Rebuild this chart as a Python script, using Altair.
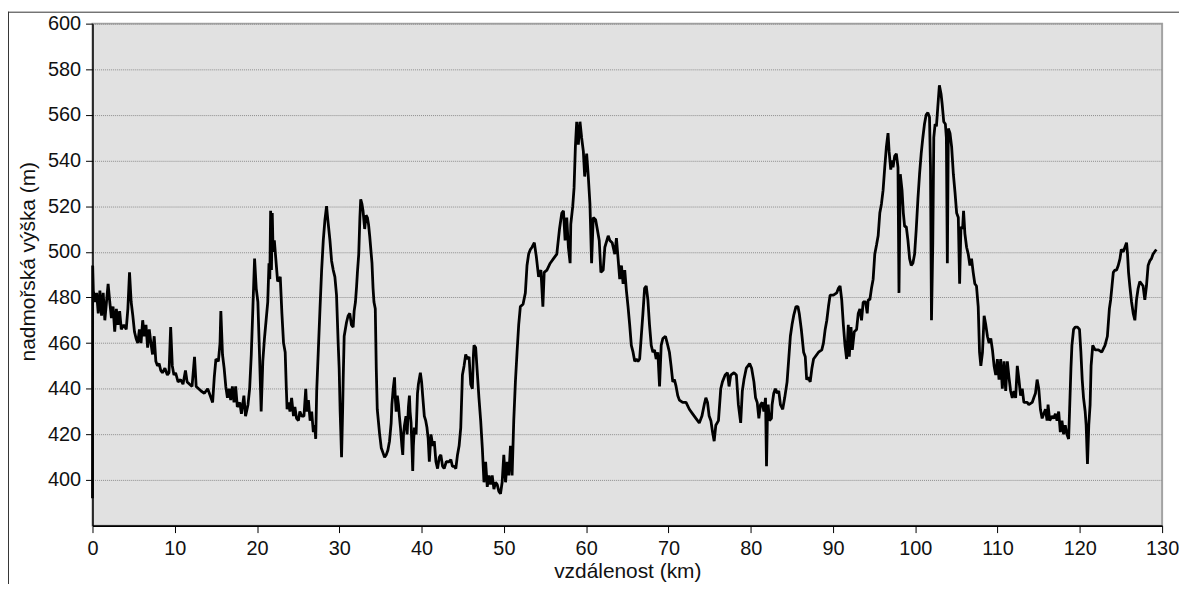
import altair as alt
import pandas as pd

km = [
    0.0, 0.02, 0.1, 0.3, 0.5, 0.7, 0.9, 1.1, 1.3, 1.5, 1.7, 1.9, 2.1, 2.3, 2.5, 2.7, 2.9, 3.1, 3.3, 3.5,
    3.8, 4.1, 4.3, 4.5, 4.7, 4.9, 5.1, 5.3, 5.5, 5.7, 5.9, 6.1, 6.3, 6.5, 6.7, 6.9, 7.1, 7.3, 7.5, 7.7,
    7.9, 8.1, 8.3, 8.5, 8.8, 9.1, 9.3, 9.5, 9.7, 9.9, 10.1, 10.4, 10.7, 11.0, 11.3, 11.5, 11.8, 12.1, 12.4, 12.6,
    12.9, 13.2, 13.6, 14.0, 14.3, 14.6, 14.8, 15.0, 15.3, 15.5, 15.6, 15.8, 16.0, 16.2, 16.4, 16.6, 16.8, 17.0, 17.2, 17.4,
    17.6, 17.9, 18.1, 18.4, 18.6, 18.9, 19.1, 19.3, 19.5, 19.7, 19.9, 20.1, 20.3, 20.5, 20.7, 20.9, 21.1, 21.3, 21.45, 21.55,
    21.65, 21.75, 21.85, 21.95, 22.1, 22.3, 22.5,
    22.82, 23.02, 23.22, 23.42, 23.55, 23.65, 23.83, 24.0, 24.2, 24.43, 24.6, 24.8, 25.03, 25.2, 25.44, 25.7, 25.92, 26.05, 26.24, 26.45,
    26.64, 26.84, 27.0, 27.13, 27.25, 27.45, 27.65, 27.85, 28.05, 28.25, 28.45, 28.55, 28.66, 28.86, 29.06, 29.26, 29.46, 29.66, 29.86, 29.98,
    30.1, 30.19, 30.27, 30.4, 30.47, 30.59, 30.87, 31.07, 31.27, 31.47, 31.68, 31.8, 31.96, 32.1, 32.2, 32.36, 32.5, 32.6, 32.75, 32.88,
    33.08, 33.25, 33.41, 33.55, 33.69, 33.97, 34.1, 34.21, 34.37, 34.49, 34.61, 34.9, 35.1, 35.3, 35.5, 35.7, 35.9, 36.1, 36.3, 36.39,
    36.55, 36.71, 36.8, 36.91, 37.05, 37.19, 37.3, 37.43, 37.6, 37.71, 37.8, 37.92, 38.1, 38.24, 38.4, 38.52, 38.6, 38.72, 38.85, 38.92,
    39.0, 39.12, 39.25, 39.33, 39.5, 39.61, 39.85, 40.0, 40.13, 40.33, 40.5, 40.65, 40.8, 40.94, 41.14, 41.35, 41.54, 41.74, 41.94, 42.15,
    42.34, 42.55, 42.74, 43.0, 43.35, 43.55, 43.75,
    43.96, 44.16, 44.36, 44.56, 44.76, 44.96, 45.16, 45.36, 45.57, 45.77, 45.97, 46.17, 46.3, 46.37, 46.57, 46.77, 46.97, 47.18, 47.38, 47.58,
    47.78, 47.98, 48.18, 48.38, 48.58, 48.79, 48.99, 49.19, 49.39, 49.59, 49.79, 49.99, 50.2, 50.4, 50.6, 50.8, 51.0, 51.2, 51.4, 51.6,
    51.8, 52.0, 52.33, 52.61, 52.81, 53.01, 53.22, 53.42, 53.7, 53.94, 54.22, 54.5, 54.74, 54.9, 55.23, 55.63, 56.03, 56.43, 56.76, 57.04,
    57.24, 57.44, 57.64, 57.84, 58.05, 58.13, 58.37, 58.53, 58.69, 58.85, 59.05, 59.25, 59.45, 59.66, 59.82, 60.06, 60.26, 60.46, 60.66, 60.86,
    61.15, 61.35, 61.59, 61.79, 62.07, 62.27, 62.68, 62.88, 63.16, 63.48, 63.68, 63.88, 64.08, 64.29, 64.49, 64.69, 64.89, 65.09, 65.29, 65.49,
    65.7, 65.9, 66.1, 66.3, 66.5, 66.7, 66.9, 67.1, 67.3, 67.5, 67.7, 67.91, 68.11, 68.31, 68.51, 68.71, 68.92, 69.12, 69.32, 69.64,
    69.92, 70.12, 70.32, 70.53, 70.73, 70.93, 71.13, 71.33, 71.73, 72.14, 72.54, 72.94, 73.34, 73.75, 74.07, 74.35, 74.55, 74.75, 74.95, 75.16,
    75.36, 75.56, 75.76, 76.08, 76.36, 76.56, 76.89, 77.17, 77.37, 77.57, 77.97, 78.26, 78.5, 78.78, 78.98, 79.18, 79.46, 79.87, 80.11, 80.39,
    80.59, 80.79, 80.99, 81.19, 81.4, 81.6, 81.8, 81.92, 82.05, 82.12, 82.28, 82.52, 82.6, 82.8, 83.0, 83.21, 83.41, 83.61, 83.89, 84.13,
    84.42, 84.62, 84.82, 85.02, 85.22, 85.5, 85.74, 85.9, 86.15, 86.43, 86.63, 86.8, 87.0, 87.23,
    87.44, 87.64, 87.84, 88.24, 88.64, 88.84, 89.05, 89.25, 89.45, 89.65, 90.05, 90.45, 90.66, 90.86, 91.06, 91.26, 91.46, 91.66, 91.86, 91.98,
    92.19, 92.35, 92.59, 92.87, 93.07, 93.27, 93.47, 93.67, 93.96, 94.16, 94.28, 94.48, 94.68, 94.88, 95.08, 95.29, 95.49, 95.69, 95.89, 96.09,
    96.29, 96.49, 96.69, 96.82, 97.02, 97.18, 97.3, 97.5, 97.7, 97.9, 98.02, 98.18, 98.39, 98.55, 98.71, 98.91, 99.11, 99.31, 99.51, 99.71,
    99.92, 100.12, 100.32, 100.52, 100.72, 100.92, 101.12, 101.32, 101.53, 101.73, 101.85, 101.97, 102.13, 102.25, 102.41, 102.57, 102.73, 102.93, 103.14, 103.26,
    103.46, 103.66, 103.78, 103.9, 104.02, 104.22, 104.42, 104.63, 104.83, 105.03, 105.23, 105.39, 105.55, 105.75, 105.87, 106.03, 106.24, 106.44, 106.64, 106.84,
    107.04, 107.24, 107.44, 107.65, 107.81, 107.97, 108.17, 108.37, 108.57, 108.77,
    108.97, 109.18, 109.38, 109.58, 109.78, 109.98, 110.18, 110.38, 110.58, 110.79, 110.99, 111.19, 111.39, 111.59, 111.79, 112.0, 112.2, 112.4, 112.6, 112.8,
    113.0, 113.2, 113.6, 113.8, 114.21, 114.41, 114.61, 114.81, 115.01, 115.21, 115.42, 115.62, 115.82, 116.02, 116.14, 116.34, 116.62, 116.82, 117.03, 117.23,
    117.43, 117.63, 117.83, 118.03, 118.23, 118.43, 118.64, 118.76, 118.92, 119.04, 119.24, 119.44, 119.72, 119.96, 120.13, 120.29, 120.45, 120.65, 120.77, 120.93,
    121.09, 121.25, 121.37, 121.57, 121.86, 122.26, 122.66, 123.06, 123.35, 123.59, 123.75, 123.91, 124.07, 124.27, 124.47, 124.67, 124.88, 125.04, 125.28, 125.48,
    125.68, 125.8, 125.92, 126.08, 126.29, 126.49, 126.69, 126.89, 127.09, 127.29, 127.49, 127.69, 127.9, 128.1, 128.3, 128.5, 128.7, 128.9, 129.1, 129.3,
]

elev = [
    392, 494, 483, 478, 482, 473, 483, 472, 482, 470, 478, 486, 478, 471, 476, 465, 475, 468, 474, 466,
    468, 466, 475, 491, 478, 472, 465, 462, 460, 466, 460, 470, 463, 468, 458, 466, 460, 455, 463, 452,
    450, 451, 448, 447, 449, 446, 447, 467, 450, 446, 447, 443, 444, 442, 448, 443, 442, 441, 454, 441,
    440, 439, 438, 440, 437, 434, 445, 453, 452, 460, 474, 455, 449, 441, 436, 440, 435, 441, 434, 441,
    432, 434, 429, 437, 428, 433, 440, 455, 476, 497, 484, 478, 455, 430, 452, 462, 470, 478, 495, 488,
    518, 492, 517, 500, 505, 496, 487,
    489, 473, 460, 456, 441, 431, 434, 430, 436, 428, 432, 427, 426, 430, 428, 428, 440, 430, 435, 426,
    430, 421, 424, 418, 439, 457, 475, 492, 505, 514, 520, 516, 512, 505, 496, 492, 489, 481, 460, 449,
    430, 420, 410, 430, 444, 463, 469, 472, 473, 468, 467, 474, 478, 485, 491, 499, 515, 523, 521, 518,
    510, 516, 515, 512, 507, 495, 484, 478, 475, 449, 431, 420, 414, 412, 410, 411, 413, 417, 425, 433,
    440, 445, 436, 430, 437, 433, 428, 423, 415, 411, 420, 424, 428, 420, 432, 437, 430, 425, 412, 404,
    415, 423, 421, 420, 438, 442, 447, 443, 437, 428, 426, 423, 418, 408, 420, 415, 417, 408, 405, 410,
    411, 406, 405, 408, 408, 409, 406,
    406, 405, 411, 415, 423, 446, 450, 455, 453, 454, 442, 440, 455, 459, 458, 447, 436, 426, 414, 399,
    408, 397, 402, 398, 402, 396, 399, 398, 395, 394, 399, 411, 399, 408, 402, 415, 402, 426, 443, 456,
    468, 476, 477, 482, 494, 499, 501, 502, 504, 498, 489, 492, 476, 491, 492, 495, 497, 499, 510, 517,
    518, 505, 515, 502, 495, 512, 520, 528, 546, 557, 547, 557, 550, 544, 533, 543, 533, 521, 495, 515,
    514, 510, 505, 491, 492, 502, 507, 505, 504, 499, 506, 497, 488, 494, 486, 492, 483, 476, 468, 459,
    456, 452, 453, 452, 453, 463, 473, 484, 485, 479, 468, 459, 456, 457, 453, 456, 441, 459, 462, 463,
    459, 456, 450, 443, 444, 441, 437, 435, 434, 434, 431, 429, 427, 425, 428, 433, 436, 434, 428, 426,
    421, 417, 424, 426, 440, 443, 446, 447, 441, 446, 447, 446, 433, 425, 439, 444, 449, 451, 449, 443,
    436, 434, 427, 433, 434, 430, 436, 406, 432, 433, 426, 427, 433, 438, 440, 438, 439, 433, 431, 436,
    443, 453, 463, 468, 472, 476, 476, 473, 466, 456, 454, 444, 445, 443,
    449, 453, 454, 456, 457, 460, 466, 470, 476, 481, 481, 482, 484, 485, 479, 468, 459, 453, 468, 454,
    467, 457, 465, 466, 473, 475, 470, 478, 478, 473, 479, 479, 484, 488, 499, 503, 507, 517, 521, 527,
    537, 546, 552, 544, 536, 540, 537, 542, 543, 537, 482, 534, 527, 517, 511, 511, 505, 497, 494, 495,
    499, 510, 523, 534, 543, 550, 556, 560, 561, 559, 537, 470, 504, 550, 556, 555, 563, 573, 569, 565,
    557, 556, 550, 495, 554, 552, 546, 534, 526, 517, 515, 486, 511, 510, 518, 508, 502, 499, 494, 497,
    491, 486, 485, 476, 456, 450, 456, 472, 468, 463,
    460, 462, 457, 450, 446, 453, 444, 453, 440, 452, 439, 452, 445, 439, 436, 439, 436, 450, 444, 437,
    440, 434, 434, 433, 434, 436, 438, 444, 440, 431, 427, 429, 431, 426, 433, 426, 428, 427, 429, 426,
    430, 421, 426, 420, 424, 420, 418, 431, 449, 459, 466, 467, 467, 466, 456, 444, 436, 430, 424, 407,
    424, 433, 450, 459, 457, 457, 456, 459, 463, 475, 479, 485, 491, 492, 492, 494, 497, 501, 500, 502,
    504, 499, 491, 485, 478, 473, 470, 479, 484, 487, 486, 485, 479, 485, 494, 496, 497, 499, 500, 501,
]

x_ticks = list(range(0, 131, 10))
y_ticks = list(range(400, 601, 20))

df = pd.DataFrame({"i": list(range(len(km))), "km": km, "elev": elev})
frame_df = pd.DataFrame({"k": [0]})

FONT = "Liberation Sans"

line = alt.Chart(df).mark_line(color="black", strokeWidth=2.8, strokeJoin="bevel").encode(
    x=alt.X(
        "km:Q",
        scale=alt.Scale(domain=[0, 130], nice=False, zero=False),
        axis=alt.Axis(
            values=x_ticks, title="vzdálenost (km)", grid=False, format="d",
            domainColor="black", domainWidth=2, tickColor="black", tickSize=7, tickWidth=1,
            labelPadding=6, labelFontSize=20, labelOverlap=False, labelFlush=False,
            titleY=52, titleBaseline="alphabetic", titleFontSize=21,
        ),
    ),
    y=alt.Y(
        "elev:Q",
        scale=alt.Scale(domain=[380, 600], nice=False, zero=False),
        axis=alt.Axis(
            values=y_ticks, title="nadmořská výška (m)", grid=True, format="d",
            gridColor="#8c8c8c", gridDash=[1, 1], gridWidth=1,
            domainColor="black", domainWidth=1.5, tickColor="black", tickSize=7, tickWidth=1,
            labelPadding=5, labelFontSize=20, labelOverlap=False, labelFlush=False,
            titleX=-64, titleY=239, titleBaseline="middle", titleFontSize=21,
        ),
    ),
    order=alt.Order("i:Q"),
)

frame_left = alt.Chart(frame_df).mark_rule(color="#333333", strokeWidth=1).encode(
    x=alt.value(-84.5), y=alt.value(-12), y2=alt.value(700)
)
frame_top = alt.Chart(frame_df).mark_rule(color="#333333", strokeWidth=1).encode(
    y=alt.value(-11.5), x=alt.value(-85), x2=alt.value(1200)
)

chart = (
    alt.layer(frame_left, frame_top, line)
    .properties(
        width=1076,
        height=505,
        padding={"left": 85, "top": 14, "right": 17, "bottom": 57},
        autosize=alt.AutoSizeParams(type="none"),
        background="white",
    )
    .configure_view(fill="#e1e1e1", stroke="#a3a3a3", strokeWidth=2)
    .configure_axis(
        labelFont=FONT, titleFont=FONT, labelColor="#111111", titleColor="#111111",
        titleFontWeight="normal",
    )
)

chart.save("out.html", embed_options={"renderer": "svg", "actions": False})
